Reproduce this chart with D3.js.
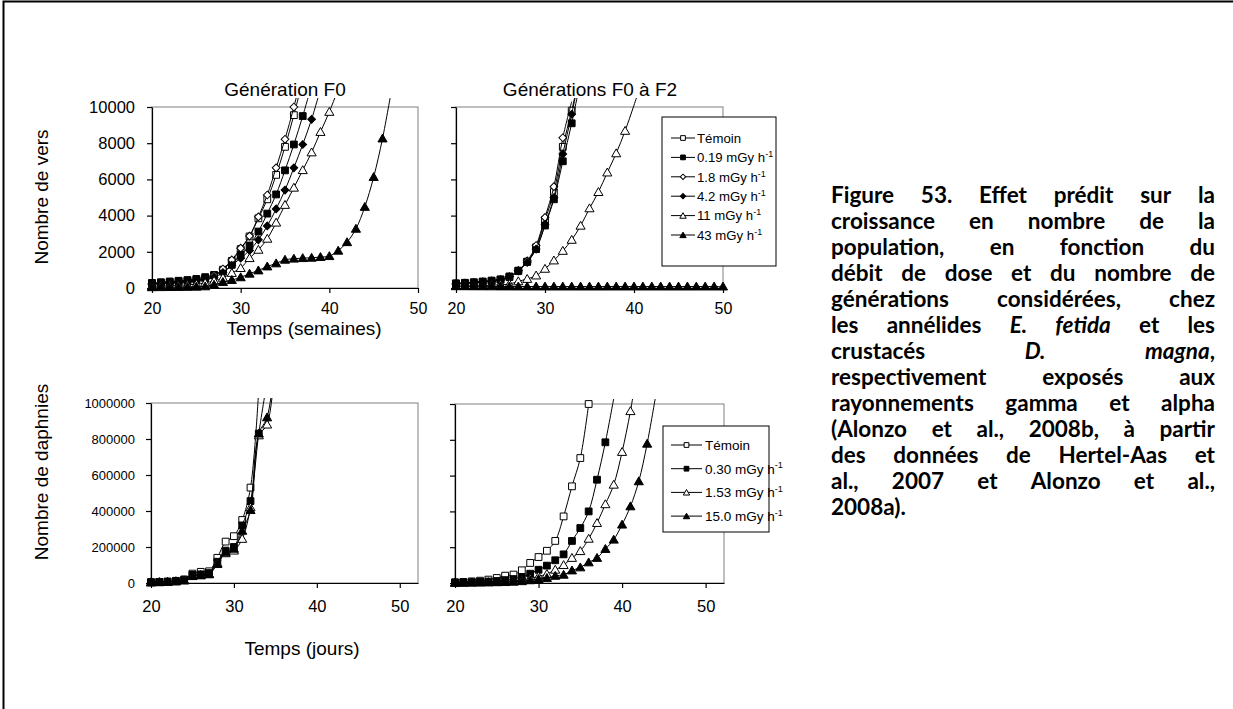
<!DOCTYPE html>
<html>
<head>
<meta charset="utf-8">
<script src="https://cdn.jsdelivr.net/npm/d3@7"></script>
<style>
body { margin: 0; background: #fff; }
svg { display: block; }
</style>
</head>
<body>
<svg id="chart" width="1233" height="709"></svg>
<script>
// ---- data : one value per week / day, starting at 20 ----
var startX = 20;

// Génération F0, vers (semaines)
var f0Temoin = [250, 280, 310, 350, 390, 450, 530, 700, 1010, 1500, 2150, 2850, 3850, 4900, 6250, 7800, 9550, 11500];
var f0D019 = [280, 320, 360, 400, 440, 500, 600, 720, 900, 1280, 1830, 2350, 3120, 4110, 5170, 6500, 7930, 9500, 11200];
var f0D18 = [230, 260, 290, 330, 370, 430, 520, 700, 1050, 1550, 2200, 2870, 3930, 5140, 6640, 8220, 10000, 12000];
var f0D42 = [200, 230, 260, 300, 340, 400, 480, 600, 850, 1250, 1650, 2070, 2660, 3430, 4370, 5410, 6640, 7930, 9320, 11000];
var f0D11 = [100, 110, 120, 140, 170, 210, 280, 400, 560, 830, 1100, 1650, 2110, 2720, 3610, 4590, 5540, 6510, 7490, 8620, 9730, 11000];
var f0D43 = [40, 45, 50, 55, 60, 70, 90, 180, 330, 440, 590, 790, 970, 1190, 1360, 1560, 1620, 1650, 1670, 1710, 1760, 2060, 2530, 3270, 4480, 6130, 8260, 10900];

// Générations F0 à F2, vers (semaines)
var f2Temoin = [230, 260, 290, 330, 380, 450, 600, 930, 1450, 2250, 3750, 5300, 7800, 9800, 12000];
var f2D019 = [260, 290, 320, 360, 410, 480, 640, 960, 1450, 2150, 3450, 4900, 7000, 9100, 11500];
var f2D18 = [220, 250, 280, 320, 370, 440, 620, 960, 1500, 2350, 3900, 5600, 8300, 10300];
var f2D42 = [240, 270, 300, 340, 390, 460, 620, 950, 1420, 2150, 3500, 5000, 7400, 9600, 12000];
var f2D11 = [100, 110, 120, 130, 150, 180, 220, 370, 500, 690, 1060, 1520, 2050, 2660, 3440, 4400, 5300, 6380, 7440, 8680, 10100, 11600];
var f2D43 = [100, 95, 92, 90, 88, 86, 85, 84, 83, 82, 81, 80, 80, 80, 80, 80, 80, 80, 80, 80, 80, 80, 80, 80, 80, 80, 80, 80, 80, 80, 80];

// Génération F0, daphnies (jours)
var d0Temoin = [5000, 6000, 8000, 12000, 20000, 52000, 62000, 65000, 140000, 230000, 260000, 350000, 530000, 1080000];
var d0D030 = [4000, 5000, 7000, 10000, 16000, 45000, 48000, 55000, 118000, 180000, 200000, 320000, 455000, 830000, 1120000];
var d0D153 = [4000, 5000, 6500, 9500, 15000, 40000, 45000, 50000, 110000, 165000, 180000, 245000, 420000, 820000, 880000, 1250000];
var d0D150 = [3000, 4000, 6000, 9000, 14000, 38000, 42000, 48000, 105000, 170000, 190000, 290000, 405000, 830000, 920000, 1250000];

// Générations F0 à F2, daphnies (jours)
var d2Temoin = [4000, 6000, 9000, 13000, 19000, 28000, 41000, 47000, 71000, 112000, 145000, 180000, 235000, 372000, 540000, 698000, 1000000];
var d2D030 = [2500, 3500, 4500, 6000, 8000, 11000, 16000, 22000, 33500, 52000, 74000, 97000, 127000, 160000, 235000, 307000, 400000, 577000, 786000, 1030000];
var d2D153 = [2000, 2500, 3000, 4000, 5000, 7000, 9000, 12000, 17000, 25000, 37000, 50000, 74000, 100000, 140000, 178000, 247000, 335000, 440000, 549000, 732000, 960000, 1250000];
var d2D150 = [1000, 1500, 2000, 2500, 3000, 4000, 5000, 7000, 10000, 15000, 22000, 28000, 40000, 46000, 70000, 87000, 115000, 140000, 190000, 242000, 326000, 428000, 568000, 778000, 1040000];

var versLabels = ["Témoin", "0.19 mGy h", "1.8 mGy h", "4.2 mGy h", "11 mGy h", "43 mGy h"];
var daphLabels = ["Témoin", "0.30 mGy h", "1.53 mGy h", "15.0 mGy h"];
var versMarkers = ["squareOpen", "squareFilled", "diamondOpen", "diamondFilled", "triangleOpen", "triangleFilled"];
var daphMarkers = ["squareOpen", "squareFilled", "triangleOpen", "triangleFilled"];

var xTicks = [20, 30, 40, 50];
var versTicks = [0, 2000, 4000, 6000, 8000, 10000];
var daphTicks = [0, 200000, 400000, 600000, 800000, 1000000];

var captionLines = [
	"Figure 53. Effet prédit sur la",
	"croissance en nombre de la",
	"population, en fonction du",
	"débit de dose et du nombre de",
	"générations considérées, chez",
	"les annélides *E.* *fetida* et les",
	"crustacés *D.* *magna*,",
	"respectivement exposés aux",
	"rayonnements gamma et alpha",
	"(Alonzo et al., 2008b, à partir",
	"des données de Hertel-Aas et",
	"al., 2007 et Alonzo et al.,",
	"2008a)."
];

var FONT = "'Liberation Sans', Arial, sans-serif";
var svg = d3.select("#chart");

// outer frame (top and left only visible)
svg.append("path").attr("d", "M3.5,709V1.5H1233").attr("fill", "none").attr("stroke", "#000").attr("stroke-width", 2);

function markerPath(kind, small) {
	var k = small ? 0.7 : 1;
	if (kind.indexOf("square") == 0) return d3.symbol().type(d3.symbolSquare).size(46 * k * k)();
	if (kind.indexOf("diamond") == 0) return d3.symbol().type(d3.symbolSquare).size(30 * k * k)();
	return d3.symbol().type(d3.symbolTriangle).size(36 * k * k)();
}

function drawMarker(g, kind, cx, cy, small) {
	var rot = kind.indexOf("diamond") == 0 ? " rotate(45)" : "";
	var dy = kind.indexOf("triangle") == 0 ? 0.8 : 0;
	g.append("path").attr("d", markerPath(kind, small))
		.attr("transform", "translate(" + cx + "," + (cy + dy) + ")" + rot)
		.attr("fill", kind.indexOf("Open") > 0 ? "#fff" : "#000")
		.attr("stroke", "#000").attr("stroke-width", 1);
}

function drawPanel(p) {
	var x = d3.scaleLinear().domain(p.xDomain).range([p.left, p.right]);
	var y = d3.scaleLinear().domain([0, p.yMax]).range([p.bottom, p.top]);

	svg.append("rect").attr("x", p.left).attr("y", p.top)
		.attr("width", p.right - p.left).attr("height", p.bottom - p.top)
		.attr("fill", "none").attr("stroke", "#808080").attr("stroke-width", 1);

	var ax = svg.append("g").attr("transform", "translate(0," + p.bottom + ")")
		.call(d3.axisBottom(x).tickValues(xTicks).tickSize(5).tickSizeOuter(0).tickPadding(p.xPad));
	var ay = svg.append("g").attr("transform", "translate(" + p.left + ",0)")
		.call(d3.axisLeft(y).tickValues(p.yTicks).tickFormat(d3.format("d")).tickSize(5).tickSizeOuter(0).tickPadding(p.yPad));
	[ax, ay].forEach(function(a) {
		a.selectAll(".domain, line").attr("stroke", "#000").attr("stroke-width", 1.2);
		a.selectAll("text").attr("fill", "#000").style("font-family", FONT);
	});
	ax.selectAll("text").style("font-size", p.xFont + "px");
	ay.selectAll("text").style("font-size", p.yFont + "px");
	if (p.hideY) ay.selectAll("text").remove();

	svg.append("clipPath").attr("id", "clip" + p.id).append("rect")
		.attr("x", p.left - 6).attr("y", p.top - p.over)
		.attr("width", p.right - p.left + 12).attr("height", p.bottom - p.top + p.over + 6);
	var g = svg.append("g").attr("clip-path", "url(#clip" + p.id + ")");

	var line = d3.line()
		.x(function(d, i) { return x(startX + i); })
		.y(function(d) { return y(d); })
		.curve(d3.curveCatmullRom.alpha(0.5));

	p.series.forEach(function(s, si) {
		g.append("path").datum(s).attr("d", line)
			.attr("fill", "none").attr("stroke", "#000").attr("stroke-width", 1);
		s.forEach(function(v, i) {
			if (v <= p.yMax * 1.005) drawMarker(g, p.markers[si], x(startX + i), y(v), false);
		});
	});
}

var panels = [
	{ id: "tl", left: 152, right: 418, top: 107, bottom: 288, xDomain: [20, 50], yMax: 10000, yTicks: versTicks,
	  over: 9, xFont: 16, yFont: 16.5, xPad: 10, yPad: 12, markers: versMarkers,
	  series: [f0Temoin, f0D019, f0D18, f0D42, f0D11, f0D43] },
	{ id: "tr", left: 456, right: 723, top: 107, bottom: 288, xDomain: [20, 50], yMax: 10000, yTicks: versTicks,
	  over: 9, xFont: 16, yFont: 16.5, xPad: 10, yPad: 12, hideY: true, markers: versMarkers,
	  series: [f2Temoin, f2D019, f2D18, f2D42, f2D11, f2D43] },
	{ id: "bl", left: 151, right: 418, top: 403, bottom: 583, xDomain: [20, 52.2], yMax: 1000000, yTicks: daphTicks,
	  over: 5, xFont: 16.5, yFont: 13, xPad: 12, yPad: 11, markers: daphMarkers,
	  series: [d0Temoin, d0D030, d0D153, d0D150] },
	{ id: "br", left: 455, right: 724, top: 404, bottom: 583, xDomain: [20, 52.2], yMax: 1000000, yTicks: daphTicks,
	  over: 5, xFont: 16.5, yFont: 13, xPad: 12, yPad: 11, hideY: true, markers: daphMarkers,
	  series: [d2Temoin, d2D030, d2D153, d2D150] }
];
panels.forEach(drawPanel);

// legends
function drawLegend(lg, labels, markers) {
	var g = svg.append("g");
	g.append("rect").attr("x", lg.x).attr("y", lg.y).attr("width", lg.w).attr("height", lg.h)
		.attr("fill", "#fff").attr("stroke", "#000").attr("stroke-width", 1);
	labels.forEach(function(lab, i) {
		var cy = lg.firstY + i * lg.step;
		g.append("line").attr("x1", lg.lineX1).attr("x2", lg.lineX2).attr("y1", cy).attr("y2", cy)
			.attr("stroke", "#000").attr("stroke-width", 1);
		drawMarker(g, markers[i], (lg.lineX1 + lg.lineX2) / 2, cy, true);
		var t = g.append("text").attr("x", lg.textX).attr("y", cy + lg.font * 0.36)
			.style("font-family", FONT).style("font-size", lg.font + "px").text(lab);
		if (i > 0) t.append("tspan").attr("dy", -lg.font * 0.38).style("font-size", (lg.font * 0.68) + "px").text("-1");
	});
}
drawLegend({ x: 662, y: 117, w: 114, h: 149, firstY: 138, step: 19.4, lineX1: 671, lineX2: 695, textX: 697, font: 13.2 },
	versLabels, versMarkers);
drawLegend({ x: 663, y: 426, w: 106, h: 106, firstY: 445, step: 23.7, lineX1: 671, lineX2: 702, textX: 705, font: 13.5 },
	daphLabels, daphMarkers);

// titles
function label(txt, x, y, size, rot) {
	var t = svg.append("text").attr("text-anchor", "middle")
		.style("font-family", FONT).style("font-size", size + "px").text(txt);
	if (rot) t.attr("transform", "translate(" + x + "," + y + ") rotate(-90)");
	else t.attr("x", x).attr("y", y);
}
label("Génération F0", 285, 96, 19, false);
label("Générations F0 à F2", 590, 96, 19, false);
label("Temps (semaines)", 304, 335, 19, false);
label("Temps (jours)", 302, 655, 19, false);
label("Nombre de vers", 48, 197, 19, true);
label("Nombre de daphnies", 48, 472, 19, true);

// caption, justified line by line
var capX = 831, capW = 384, capTop = 203, capStep = 26, capSize = 22.5;
var capG = svg.append("g").style("font-family", "Lato, 'Open Sans', sans-serif")
	.style("font-weight", "bold").style("font-size", capSize + "px");

captionLines.forEach(function(ln, li) {
	var words = ln.split(" ");
	var nodes = words.map(function(w) {
		var t = capG.append("text").attr("y", capTop + li * capStep);
		var m = w.match(/^\*(.+)\*(.*)$/);
		if (m) {
			t.append("tspan").style("font-style", "italic").text(m[1]);
			if (m[2]) t.append("tspan").text(m[2]);
		} else {
			t.text(w);
		}
		return t;
	});
	var widths = nodes.map(function(t) { return t.node().getComputedTextLength(); });
	var last = li == captionLines.length - 1;
	var gap = last ? capSize * 0.23 : (capW - d3.sum(widths)) / (words.length - 1);
	var xx = capX;
	nodes.forEach(function(t, i) { t.attr("x", xx); xx += widths[i] + gap; });
});
</script>
</body>
</html>
